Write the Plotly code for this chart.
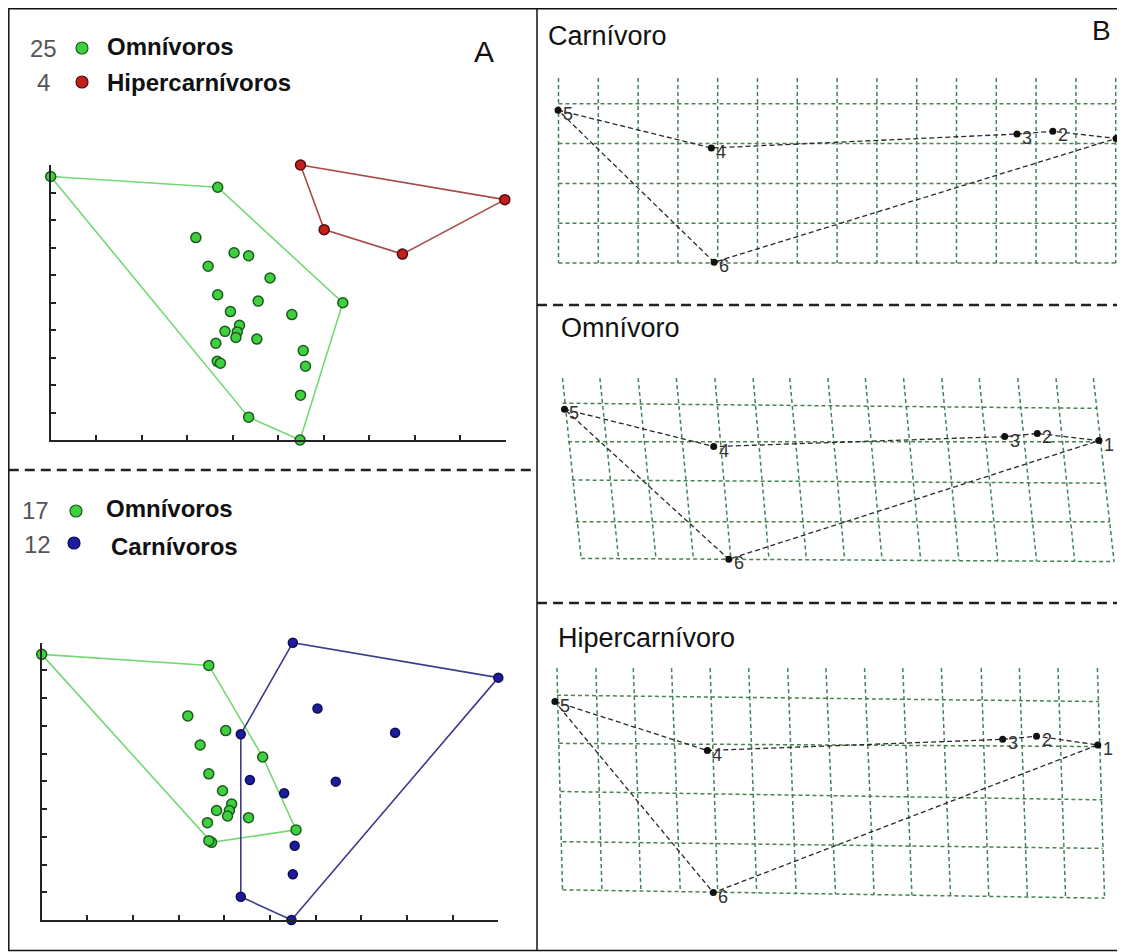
import plotly.graph_objects as go

W, H = 1125, 952
OFF = 8  # page body margin that the browser adds around the figure

# ---------------- Panel A (top): 25 Omnívoros vs 4 Hipercarnívoros ----------------
omn_a_x = [0.00, 3.67, 6.42, 5.48, 4.35, 3.19, 4.03, 4.35, 3.46, 4.82, 3.67, 4.56, 3.95,
           5.30, 4.15, 3.83, 4.10, 4.07, 4.53, 3.63, 5.55, 3.66, 3.73, 5.60, 5.49]
omn_a_y = [9.58, 9.19, 4.99, 0.00, 0.83, 7.36, 6.81, 6.70, 6.32, 5.89, 5.28, 5.05, 4.67,
           4.56, 4.17, 3.95, 3.93, 3.73, 3.67, 3.52, 3.25, 2.86, 2.79, 2.68, 1.63]
omn_a_hull = [0, 1, 2, 3, 4, 0]
hip_x = [5.49, 9.98, 7.73, 6.01]
hip_y = [10.0, 8.74, 6.76, 7.65]
hip_hull = [0, 1, 2, 3, 0]

# ---------------- Panel A (bottom): 17 Omnívoros vs 12 Carnívoros ----------------
omn_b_x = [0.00, 3.66, 4.84, 5.57, 3.72, 3.20, 4.03, 3.47, 3.66, 3.96, 4.16, 3.83, 4.11,
           4.07, 4.53, 3.63, 3.66]
omn_b_y = [9.58, 9.18, 5.88, 3.25, 2.80, 7.36, 6.83, 6.31, 5.27, 4.66, 4.18, 3.95, 3.95,
           3.75, 3.69, 3.51, 2.86]
omn_b_hull = [0, 1, 2, 3, 4, 0]
car_x = [5.50, 10.0, 5.47, 4.36, 4.36, 6.04, 7.74, 4.56, 6.44, 5.31, 5.54, 5.50]
car_y = [10.0, 8.74, 0.00, 0.84, 6.70, 7.63, 6.75, 5.05, 4.99, 4.57, 2.68, 1.65]
car_hull = [0, 1, 2, 3, 4, 0]

ticks_a = [0, 1, 2, 3, 4, 5, 6, 7, 8, 9, 10]

legend_top_counts = ["25", "4"]
legend_top_names = ["Omnívoros", "Hipercarnívoros"]
legend_bot_counts = ["17", "12"]
legend_bot_names = ["Omnívoros", "Carnívoros"]

# ---------------- Panel B: deformation grids + landmarks ----------------
lm_labels = ["1", "2", "3", "4", "5", "6"]
lm_outline = [4, 3, 2, 1, 0, 5, 4]   # 5-4-3-2-1-6-5

panel_titles = ["Carnívoro", "Omnívoro", "Hipercarnívoro"]

# Carnívoro (reference, regular grid)
carg_vtop_u = [0, 1, 2, 3, 4, 5, 6, 7, 8, 9, 10, 11, 12, 13, 14]
carg_vtop_v = [4.65] * 15
carg_vbot_u = [0, 1, 2, 3, 4, 5, 6, 7, 8, 9, 10, 11, 12, 13, 14]
carg_vbot_v = [0] * 15
carg_hl_u = [0, 0, 0, 0, 0]
carg_hl_v = [4, 3, 2, 1, 0]
carg_hr_u = [14, 14, 14, 14, 14]
carg_hr_v = [4, 3, 2, 1, 0]
car_lm_u = [14.01, 12.42, 11.52, 3.84, -0.01, 3.91]
car_lm_v = [3.13, 3.31, 3.24, 2.89, 3.84, 0.02]

# Omnívoro (deformed grid)
omg_vtop_u = [0.10, 1.04, 2.00, 2.96, 3.93, 4.89, 5.81, 6.77, 7.71, 8.67, 9.63, 10.57, 11.54, 12.50, 13.44]
omg_vtop_v = [4.57] * 15
omg_vbot_u = [0.57, 1.51, 2.45, 3.39, 4.33, 5.29, 6.23, 7.19, 8.13, 9.10, 10.06, 11.04, 12.01, 12.97, 13.96]
omg_vbot_v = [0.04, 0.03, 0.03, 0.02, 0.02, 0.01, 0.01, 0.0, 0.0, -0.01, -0.01, -0.02, -0.02, -0.03, -0.04]
omg_hl_u = [0.10, 0.24, 0.33, 0.43, 0.57]
omg_hl_v = [3.94, 2.97, 2.01, 0.96, 0.04]
omg_hr_u = [13.53, 13.63, 13.77, 13.86, 13.96]
omg_hr_v = [3.81, 2.97, 1.93, 0.96, -0.04]
omn_lm_u = [13.58, 12.03, 11.21, 3.90, 0.15, 4.28]
omn_lm_v = [3.00, 3.18, 3.10, 2.85, 3.79, 0.02]

# Hipercarnívoro (deformed grid)
hcg_vtop_u = [-0.04, 0.94, 1.88, 2.84, 3.81, 4.78, 5.76, 6.72, 7.69, 8.65, 9.62, 10.62, 11.58, 12.55, 13.54]
hcg_vtop_v = [5.65] * 15
hcg_vbot_u = [0.10, 1.09, 2.07, 3.06, 4.00, 4.98, 5.97, 6.96, 7.93, 8.88, 9.85, 10.81, 11.78, 12.74, 13.72]
hcg_vbot_v = [0.08, 0.07, 0.05, 0.04, 0.02, 0.01, -0.01, -0.02, -0.04, -0.05, -0.07, -0.08, -0.10, -0.11, -0.13]
hcg_hl_u = [-0.04, 0.01, 0.05, 0.10, 0.10]
hcg_hl_v = [4.97, 3.76, 2.55, 1.29, 0.08]
hcg_hr_u = [13.58, 13.62, 13.67, 13.67, 13.72]
hcg_hr_v = [4.81, 3.68, 2.34, 1.12, -0.13]
hip_lm_u = [13.55, 12.01, 11.16, 3.74, -0.09, 3.89]
hip_lm_v = [3.72, 3.94, 3.86, 3.58, 4.81, 0.01]

# ---------------- styling ----------------
FONT = "Liberation Sans, Arial, sans-serif"
GREEN_FILL, GREEN_EDGE, GREEN_LINE = "#3fd03f", "#1d5a1d", "#74d874"
RED_FILL, RED_EDGE, RED_LINE = "#c41f1f", "#560b0b", "#a84a4a"
BLUE_FILL, BLUE_EDGE, BLUE_LINE = "#1c1c9c", "#0d0d50", "#3c3c8c"
GRID_COLOR = "#468255"

FW, FH = W - OFF, H - OFF   # figure size so that figure + page margin fills the window


def fx(p):
    return (p - OFF) / FW


def fy(p):
    return 1 - (p - OFF) / FH


fig = go.Figure()
annotations = []


def add_hull(xs, ys, order, color, xa, ya):
    fig.add_trace(go.Scatter(x=[xs[i] for i in order], y=[ys[i] for i in order],
                             mode="lines", line=dict(color=color, width=1.6),
                             xaxis=xa, yaxis=ya, hoverinfo="skip"))


def add_points(xs, ys, fill, edge, size, xa, ya):
    fig.add_trace(go.Scatter(x=xs, y=ys, mode="markers", cliponaxis=False,
                             marker=dict(size=size, color=fill, line=dict(color=edge, width=1.5)),
                             xaxis=xa, yaxis=ya))


# Panel A top
add_hull(omn_a_x, omn_a_y, omn_a_hull, GREEN_LINE, "x", "y")
add_hull(hip_x, hip_y, hip_hull, RED_LINE, "x", "y")
add_points(omn_a_x, omn_a_y, GREEN_FILL, GREEN_EDGE, 10, "x", "y")
add_points(hip_x, hip_y, RED_FILL, RED_EDGE, 10, "x", "y")

# Panel A bottom
add_hull(omn_b_x, omn_b_y, omn_b_hull, GREEN_LINE, "x2", "y2")
add_hull(car_x, car_y, car_hull, BLUE_LINE, "x2", "y2")
add_points(omn_b_x, omn_b_y, GREEN_FILL, GREEN_EDGE, 10, "x2", "y2")
add_points(car_x, car_y, BLUE_FILL, BLUE_EDGE, 9, "x2", "y2")


def add_grid(vtu, vtv, vbu, vbv, hlu, hlv, hru, hrv, xa, ya):
    xs, ys = [], []
    for i in range(len(vtu)):
        xs += [vtu[i], vbu[i], None]
        ys += [vtv[i], vbv[i], None]
    for i in range(len(hlu)):
        xs += [hlu[i], hru[i], None]
        ys += [hlv[i], hrv[i], None]
    fig.add_trace(go.Scatter(x=xs, y=ys, mode="lines", hoverinfo="skip",
                             line=dict(color=GRID_COLOR, width=1.5, dash="4px,3px"),
                             xaxis=xa, yaxis=ya))


def add_landmarks(us, vs, xa, ya):
    fig.add_trace(go.Scatter(x=[us[i] for i in lm_outline], y=[vs[i] for i in lm_outline],
                             mode="lines", hoverinfo="skip",
                             line=dict(color="#2a2a2a", width=1.3, dash="5px,3px"),
                             xaxis=xa, yaxis=ya))
    fig.add_trace(go.Scatter(x=us, y=vs, mode="markers", cliponaxis=False,
                             marker=dict(symbol="circle", size=7, color="#111111"),
                             xaxis=xa, yaxis=ya))
    for lab, u, v in zip(lm_labels, us, vs):
        annotations.append(dict(text=lab, x=u, y=v, xref=xa, yref=ya, xanchor="left",
                                yanchor="middle", xshift=3, yshift=-4, showarrow=False,
                                font=dict(family=FONT, size=18, color="#333333")))


add_grid(carg_vtop_u, carg_vtop_v, carg_vbot_u, carg_vbot_v, carg_hl_u, carg_hl_v,
         carg_hr_u, carg_hr_v, "x3", "y3")
add_landmarks(car_lm_u, car_lm_v, "x3", "y3")
add_grid(omg_vtop_u, omg_vtop_v, omg_vbot_u, omg_vbot_v, omg_hl_u, omg_hl_v,
         omg_hr_u, omg_hr_v, "x4", "y4")
add_landmarks(omn_lm_u, omn_lm_v, "x4", "y4")
add_grid(hcg_vtop_u, hcg_vtop_v, hcg_vbot_u, hcg_vbot_v, hcg_hl_u, hcg_hl_v,
         hcg_hr_u, hcg_hr_v, "x5", "y5")
add_landmarks(hip_lm_u, hip_lm_v, "x5", "y5")

# ---------------- axes ----------------
scatter_axis = dict(range=[0, 10], tickvals=ticks_a, ticks="inside", ticklen=5, tickwidth=1.5,
                    tickcolor="#222", showticklabels=False, showline=True, linecolor="#222",
                    linewidth=2, showgrid=False, zeroline=False, fixedrange=True)

layout = dict(
    xaxis=dict(scatter_axis, domain=[fx(50.7), fx(505.7)], anchor="y"),
    yaxis=dict(scatter_axis, domain=[fy(440), fy(165)], anchor="x"),
    xaxis2=dict(scatter_axis, domain=[fx(41.7), fx(498.3)], anchor="y2"),
    yaxis2=dict(scatter_axis, domain=[fy(920), fy(642.7)], anchor="x2"),
)

K = 39.8          # pixels per grid unit
U0 = 558.5        # pixel x of u = 0
XL, XR = 540, 1123
panels = [("3", 60, 300, 263), ("4", 350, 598, 560), ("5", 655, 945, 893)]
for n, top, bot, v0 in panels:
    layout["xaxis" + n] = dict(domain=[fx(XL), fx(XR)], range=[(XL - U0) / K, (XR - U0) / K],
                               visible=False, anchor="y" + n, fixedrange=True)
    layout["yaxis" + n] = dict(domain=[fy(bot), fy(top)], range=[(v0 - bot) / K, (v0 - top) / K],
                               visible=False, anchor="x" + n, fixedrange=True)

fig.update_layout(**layout)

# ---------------- frame, separators ----------------
shapes = [
    dict(type="rect", xref="paper", yref="paper", x0=fx(8.8), x1=fx(1123.5), y0=fy(950.5), y1=fy(8.8),
         line=dict(color="#111", width=1.5)),
    dict(type="line", xref="paper", yref="paper", x0=fx(537), x1=fx(537), y0=fy(950.5), y1=fy(8.8),
         line=dict(color="#111", width=1.5)),
    dict(type="line", xref="paper", yref="paper", x0=fx(8.8), x1=fx(537), y0=fy(470), y1=fy(470),
         line=dict(color="#222", width=2.5, dash="10px,6px")),
    dict(type="line", xref="paper", yref="paper", x0=fx(537), x1=fx(1123.5), y0=fy(305), y1=fy(305),
         line=dict(color="#222", width=2.5, dash="10px,6px")),
    dict(type="line", xref="paper", yref="paper", x0=fx(537), x1=fx(1123.5), y0=fy(603), y1=fy(603),
         line=dict(color="#222", width=2.5, dash="10px,6px")),
]


def dot(xp, yp, fill, edge):
    return dict(type="circle", xref="paper", yref="paper", xsizemode="pixel", ysizemode="pixel",
                xanchor=fx(xp), yanchor=fy(yp), x0=-6, x1=6, y0=-6, y1=6,
                fillcolor=fill, line=dict(color=edge, width=1.2))


shapes += [dot(82, 48, GREEN_FILL, GREEN_EDGE), dot(82, 82, RED_FILL, RED_EDGE),
           dot(76, 511, GREEN_FILL, GREEN_EDGE), dot(74, 543, BLUE_FILL, BLUE_EDGE)]
fig.update_layout(shapes=shapes)


def ann(text, xp, yp, size, color="#111", anchor="left", bold=False):
    t = "<b>%s</b>" % text if bold else text
    return dict(text=t, x=fx(xp), y=fy(yp), xref="paper", yref="paper", xanchor=anchor,
                yanchor="middle", showarrow=False, font=dict(family=FONT, size=size, color=color))


annotations += [
    ann(legend_top_counts[0], 43, 48, 24, "#555", "center"),
    ann(legend_top_names[0], 105, 46, 24, "#111", bold=True),
    ann(legend_top_counts[1], 43, 82, 24, "#555", "center"),
    ann(legend_top_names[1], 105, 83, 24, "#111", bold=True),
    ann("A", 484, 51, 30, "#111", "center"),
    ann(legend_bot_counts[0], 35, 511, 24, "#555", "center"),
    ann(legend_bot_names[0], 104, 508, 24, "#111", bold=True),
    ann(legend_bot_counts[1], 37, 544, 24, "#555", "center"),
    ann(legend_bot_names[1], 109, 546, 24, "#111", bold=True),
    ann(panel_titles[0], 546, 36, 27, "#111"),
    ann("B", 1101, 30, 28, "#111", "center"),
    ann(panel_titles[1], 559, 328, 27, "#111"),
    ann(panel_titles[2], 556, 638, 27, "#111"),
]
fig.update_layout(annotations=annotations)

fig.update_layout(width=FW, height=FH, margin=dict(l=0, r=0, t=0, b=0), showlegend=False,
                  paper_bgcolor="white", plot_bgcolor="white")

fig.write_html("out.html")
